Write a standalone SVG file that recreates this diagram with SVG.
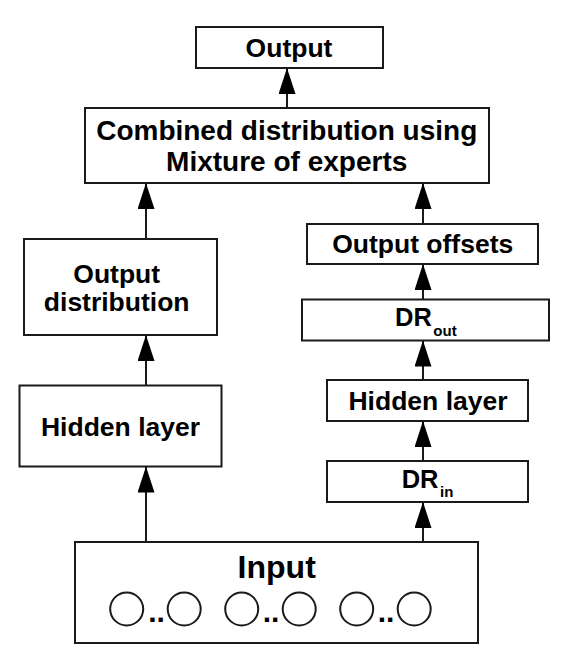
<svg xmlns="http://www.w3.org/2000/svg" width="566" height="667" viewBox="0 0 566 667">
<style>
.box{fill:#fff;stroke:#1a1a1a;stroke-width:2}
.t{font-family:"Liberation Sans",Arial,sans-serif;font-weight:bold;fill:#000;font-size:26.5px;text-anchor:middle}
.s{font-family:"Liberation Sans",Arial,sans-serif;font-weight:bold;fill:#000;font-size:25.5px}
.c{fill:#fff;stroke:#1a1a1a;stroke-width:2}
.e{stroke:#1a1a1a;stroke-width:2;fill:none;marker-end:url(#ah)}
</style>
<defs>
<marker id="ah" markerUnits="userSpaceOnUse" markerWidth="26" markerHeight="17" viewBox="0 0 26 17" refX="26" refY="8.5" orient="auto">
<path d="M0,0 L26,8.5 L0,17 z" fill="#000"/>
</marker>
</defs>
<rect width="566" height="667" fill="#fff"/>
<g id="connectors">
<line class="e" x1="287" y1="108" x2="287" y2="68"/>
<line class="e" x1="146" y1="542" x2="146" y2="466.5"/>
<line class="e" x1="146" y1="385.5" x2="146" y2="335"/>
<line class="e" x1="146" y1="239" x2="146" y2="183"/>
<line class="e" x1="423" y1="542" x2="423" y2="502"/>
<line class="e" x1="423" y1="461" x2="423" y2="421"/>
<line class="e" x1="423" y1="380" x2="423" y2="340.5"/>
<line class="e" x1="423" y1="299.5" x2="423" y2="264"/>
<line class="e" x1="423" y1="224" x2="423" y2="183"/>
</g>
<g id="output">
<rect class="box" x="196" y="27" width="187" height="41"/>
<text class="t" x="289" y="57.3">Output</text>
</g>
<g id="combined">
<rect class="box" x="85" y="108" width="404" height="75"/>
<text class="t" x="286.7" y="140" style="font-size:28px">Combined distribution using</text>
<text class="t" x="286.7" y="170.5" style="font-size:28px">Mixture of experts</text>
</g>
<g id="output-distribution">
<rect class="box" x="24" y="239" width="193" height="96"/>
<text class="t" x="116.7" y="282.5">Output</text>
<text class="t" x="116.7" y="311">distribution</text>
</g>
<g id="hidden-left">
<rect class="box" x="19.5" y="385.5" width="202" height="81"/>
<text class="t" x="120.5" y="436">Hidden layer</text>
</g>
<g id="output-offsets">
<rect class="box" x="307" y="224" width="231" height="40"/>
<text class="t" x="422.7" y="253.3">Output offsets</text>
</g>
<g id="dr-out">
<rect class="box" x="302" y="299.5" width="247" height="41"/>
<text class="s" x="395" y="325.7">DR<tspan font-size="15" dx="1.5" dy="10">out</tspan></text>
</g>
<g id="hidden-right">
<rect class="box" x="327" y="380" width="201" height="41"/>
<text class="t" x="428" y="410">Hidden layer</text>
</g>
<g id="dr-in">
<rect class="box" x="327" y="461" width="201" height="41"/>
<text class="s" x="401.7" y="487.7">DR<tspan font-size="15" dx="1.5" dy="9">in</tspan></text>
</g>
<g id="input">
<rect class="box" x="75" y="542" width="403" height="101"/>
<text class="t" x="276.7" y="577.5" style="font-size:32px">Input</text>
<circle class="c" cx="126.7" cy="609" r="16.5"/>
<circle class="c" cx="184.2" cy="609" r="16.5"/>
<circle class="c" cx="241.7" cy="609" r="16.5"/>
<circle class="c" cx="299.2" cy="609" r="16.5"/>
<circle class="c" cx="356.7" cy="609" r="16.5"/>
<circle class="c" cx="414.2" cy="609" r="16.5"/>
<text class="t" x="156.5" y="622" style="font-size:30px">..</text>
<text class="t" x="271" y="622" style="font-size:30px">..</text>
<text class="t" x="386" y="622" style="font-size:30px">..</text>
</g>
</svg>
